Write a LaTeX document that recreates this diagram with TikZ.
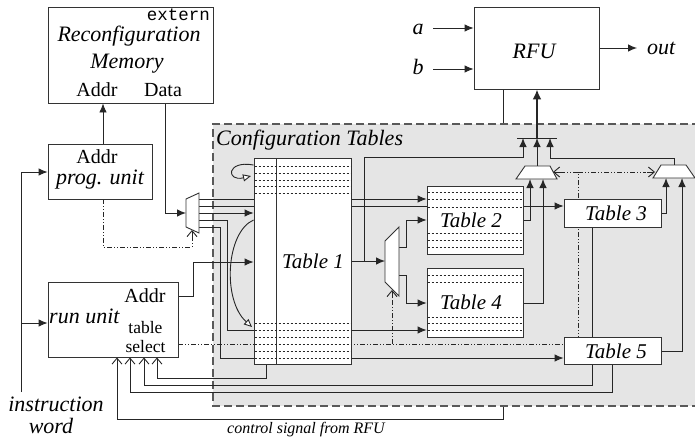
\documentclass[tikz,border=0pt]{standalone}
\usepackage{fontspec}
\setmainfont{Liberation Serif}
\setmonofont{Liberation Mono}
\usetikzlibrary{arrows.meta,calc}
\pgfdeclarelayer{hidden}
\pgfdeclarelayer{region}
\pgfdeclarelayer{wires}
\pgfsetlayers{hidden,region,wires,main}
\begin{document}
\begin{tikzpicture}[x=1pt,y=-1pt,
  wire/.style={draw=black!85, line width=0.9pt},
  arr/.style={wire, -{Latex[length=9pt,width=7.5pt]}},
  oarr/.style={wire, -{Straight Barb[length=6pt,width=10pt]}},
  ctl/.style={wire, dash pattern=on 5pt off 2pt on 1pt off 2pt on 1pt off 2pt},
  carr/.style={wire, -{Triangle[open,length=8pt,width=7pt,fill=white]}},
  blk/.style={draw=black!80, line width=0.9pt, fill=white, inner sep=0pt},
  rows/.style={draw=black!85, line width=0.7pt, dash pattern=on 2pt off 2pt},
  txt/.style={inner sep=0pt},
  itl/.style={txt, font=\fontsize{22}{24}\selectfont\itshape},
  tbl/.style={txt, font=\fontsize{21}{24}\selectfont\itshape},
  upr/.style={txt, font=\fontsize{20}{22}\selectfont},
  small/.style={txt, font=\fontsize{16}{18}\selectfont\itshape},
  mono/.style={txt, font=\fontsize{17.5}{20}\selectfont\ttfamily}]
\useasboundingbox (0,0) rectangle (695,439);

% configuration tables region
\begin{pgfonlayer}{region}
  \fill[black!10] (213,124) rectangle (700,406);
  \draw[dash pattern=on 8pt off 4pt, line width=1.1pt, draw=black!65]
    (700,124) -- (213,124) -- (213,406) -- (700,406);
\end{pgfonlayer}
\node[itl, anchor=base west] (cfgl) at (216,145) {Configuration Tables};

% boxes
\node[blk, minimum width=165pt, minimum height=96pt] (mem) at (130.5,55) {};
\node[mono, anchor=base east] (ext) at (210,20) {extern};
\node[itl, anchor=base] (mem1) at (129,41) {Reconfiguration};
\node[itl, anchor=base] (mem2) at (127,68) {Memory};
\node[upr, anchor=base] (maddr) at (97,96) {Addr};
\node[upr, anchor=base] (mdata) at (163,96) {Data};

\node[blk, minimum width=104pt, minimum height=55pt] (prog) at (100,171.5) {};
\node[upr, anchor=base] (paddr) at (97,163) {Addr};
\node[itl, anchor=base] (pname) at (100,184) {prog. unit};

\node[blk, minimum width=130pt, minimum height=75pt] (run) at (113,319.5) {};
\node[itl, anchor=base west] (rname) at (49,323) {run unit};
\node[upr, anchor=base] (raddr) at (145,302) {Addr};
\node[txt, align=center, font=\fontsize{17.5}{19.5}\selectfont, anchor=center] (rsel) at (145.5,337) {table\\select};

\node[itl, anchor=base] (iw1) at (56,411) {instruction};
\node[itl, anchor=base] (iw2) at (51,433) {word};

\node[blk, minimum width=125pt, minimum height=82pt] (rfu) at (536.5,48) {};
\node[itl, anchor=base] (rfut) at (534,58) {RFU};
\node[itl, anchor=base] (la) at (418,34) {a};
\node[itl, anchor=base] (lb) at (418,74) {b};
\node[itl, anchor=base west] (lout) at (647,54) {out};
\coordinate (ain) at (433,28);
\coordinate (bin) at (433,69);
\coordinate (oend) at (637,48);

% tables
\node[blk, minimum width=97pt, minimum height=206pt] (t1) at (302.5,261) {};
\draw[blk] (276,158) -- (276,364);
\foreach \y in {166,173,180,186,193,323,330,337,344,351,358}
  \draw[rows] (254.5,\y) -- (350.5,\y);
\node[tbl, anchor=base] (t1t) at (313,268) {Table 1};

\node[blk, minimum width=96pt, minimum height=68pt] (t2) at (475,220) {};
\foreach \y in {192,199,207,233,240,247}
  \draw[rows] (427.5,\y) -- (522.5,\y);
\node[tbl, anchor=base] (t2t) at (471,227) {Table 2};

\node[blk, minimum width=96pt, minimum height=69pt] (t4) at (475,302.5) {};
\foreach \y in {275,282,317,323,330}
  \draw[rows] (427.5,\y) -- (522.5,\y);
\node[tbl, anchor=base] (t4t) at (471,309) {Table 4};

\node[blk, minimum width=97pt, minimum height=28pt] (t3) at (612.5,213) {};
\node[tbl, anchor=base] (t3t) at (616,220) {Table 3};
\node[blk, minimum width=97pt, minimum height=27pt] (t5) at (612.5,350.5) {};
\node[tbl, anchor=base] (t5t) at (616,358) {Table 5};

% multiplexers
\draw[blk] (186,199) -- (199,193) -- (199,233) -- (186,227) -- cycle;
\draw[blk] (385,241) -- (399,227) -- (399,296) -- (385,282) -- cycle;
\draw[blk] (516,179) -- (557,179) -- (550,166) -- (525,166) -- cycle;
\draw[blk] (653,178) -- (695,178) -- (686,165) -- (661,165) -- cycle;

\begin{pgfonlayer}{hidden}
  \draw[oarr] (rfu.south -| 503,0) -- (503,419) -- (117,419) -- (run.south -| 117,0);
\end{pgfonlayer}

\begin{pgfonlayer}{wires}
  % RFU inputs / output
  \draw[arr] (ain) -- (rfu.west |- ain);
  \draw[arr] (bin) -- (rfu.west |- bin);
  \draw[arr] (rfu.east |- oend) -- (oend);
  % memory / prog unit
  \draw[arr] (prog.north -| 103,0) -- (mem.south -| 103,0);
  \draw[arr] (mem.south -| 165,0) -- (165,213) -- (186,213);
  \draw[arr] (21,392) -- (21,172) -- (prog.west |- 0,172);
  \draw[arr] (21,323) -- (run.west |- 0,323);
  \draw[ctl] (prog.south -| 103,0) -- (103,247) -- (192,247) -- (192,236);
  \draw[oarr] (192,237) -- (192,230);
  % left mux outputs
  \draw[arr] (199,199) -- (t2.west |- 0,199);
  \draw[arr] (199,206) -- (t3.west |- 0,206);
  \draw[arr] (199,213) -- (t1.west |- 0,213);
  \draw[arr] (199,220) -- (227,220) -- (227,330) -- (t4.west |- 0,330);
  \draw[arr] (199,227) -- (220,227) -- (220,358) -- (t5.west |- 0,358);
  % run unit addr
  \draw[arr] (run.east |- 0,296) -- (193,296) -- (193,262) -- (t1.west |- 0,262);
  % table select
  \draw[ctl] (run.east |- 0,344) -- (578,344) -- (578,172);
  \draw[ctl] (578,172) -- (560,172);
  \draw[oarr] (561,172) -- (553,172);
  \draw[ctl] (578,172) -- (646,172);
  \draw[oarr] (647,172) -- (655,172);
  \draw[ctl] (392,344) -- (392,297);
  \draw[oarr] (392,298) -- (392,290);
  % table 1 outputs
  \draw[arr] (t1.east |- 0,261) -- (385,261);
  \draw[arr] (364,261) -- (364,157) -- (523,157) -- (523,138);
  % mid mux outputs
  \draw[arr] (399,247) -- (406,247) -- (406,220) -- (t2.west |- 0,220);
  \draw[arr] (399,275) -- (406,275) -- (406,303) -- (t4.west |- 0,303);
  % tables to RFU muxes
  \draw[arr] (t2.east |- 0,220) -- (530,220) -- (530,179);
  \draw[arr] (t4.east |- 0,303) -- (543,303) -- (543,179);
  \draw[arr] (t3.east |- 0,213) -- (666,213) -- (666,178);
  \draw[arr] (t5.east |- 0,351) -- (682,351) -- (682,178);
  \draw[arr] (537,166) -- (537,138);
  \draw[arr] (674,165) -- (674,158) -- (550,158) -- (550,138);
  \draw[wire] (517,138) -- (557,138);
  \draw[draw=black!85, line width=2pt, -{Latex[length=10pt,width=9pt]}] (537,138) -- (rfu.south -| 537,0);
  % feedback to run unit
  \draw[oarr] (t1.south -| 266,0) -- (266,378) -- (157,378) -- (run.south -| 157,0);
  \draw[oarr] (t3.south -| 592,0) -- (592,385) -- (144,385) -- (run.south -| 144,0);
  \draw[oarr] (t5.south -| 612,0) -- (612,392) -- (130,392) -- (run.south -| 130,0);
  % curved arrows
  \draw[carr] (t1.west |- 0,165) .. controls (226,160) and (226,182) .. (251,176);
  \draw[carr] (t1.west |- 0,220) .. controls (226,232) and (222,300) .. (252,327);
\end{pgfonlayer}

\node[small, anchor=base west] (ctll) at (227,433) {control signal from RFU};
\end{tikzpicture}
\end{document}
